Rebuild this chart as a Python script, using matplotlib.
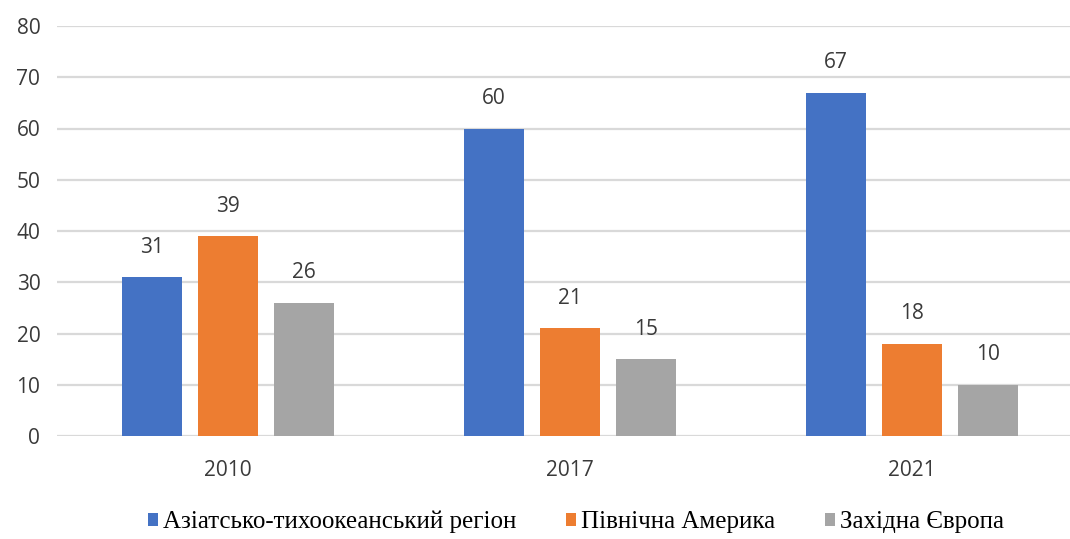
import matplotlib.pyplot as plt
import numpy as np

years = ["2010", "2017", "2021"]
regions = ["Азіатсько-тихоокеанський регіон", "Північна Америка", "Західна Європа"]
asia_pacific = [31, 60, 67]
north_america = [39, 21, 18]
western_europe = [26, 15, 10]

colors = ["#4472C4", "#ED7D31", "#A5A5A5"]
text_color = "#3A3A3A"

fig = plt.figure(figsize=(10.7, 5.39), dpi=100)
ax = fig.add_axes([57/1070, 103/539, 1013/1070, 410/539])

x = np.arange(len(years))
offset = 0.222
width = 0.173
series = [asia_pacific, north_america, western_europe]
for i, (vals, name) in enumerate(zip(series, regions)):
    bars = ax.bar(x + (i - 1)*offset, vals, width=width, color=colors[i], label=name, zorder=3)
    for rect, v in zip(bars, vals):
        ax.annotate(str(v), (rect.get_x() + rect.get_width()/2, rect.get_height()),
                    xytext=(0, 14), textcoords="offset points", ha="center", va="bottom",
                    fontsize=15, color=text_color, family="Open Sans")

ax.set_xlim(-0.5, 2.5 - 13/342)
ax.set_ylim(0, 80)
ax.set_yticks(range(0, 81, 10))
ax.set_xticks(x)
ax.set_xticklabels(years)
ax.yaxis.grid(True, color="#D9D9D9", linewidth=1.6, zorder=0)
for s in ax.spines.values():
    s.set_visible(False)
ax.tick_params(axis="both", length=0, labelsize=15, labelcolor=text_color)
ax.tick_params(axis="x", pad=17)
ax.tick_params(axis="y", pad=12)
for lbl in ax.get_xticklabels() + ax.get_yticklabels():
    lbl.set_family("Open Sans")

handles, labels = ax.get_legend_handles_labels()
fig.legend(handles, labels, loc="center", bbox_to_anchor=(576/1070, 1 - 522/539),
           ncol=3, frameon=False, handlelength=0.4, handleheight=0.45, handletextpad=0.2,
           columnspacing=2.0, prop={"family": "Liberation Serif", "size": 18})

plt.savefig("out.png", dpi=100)
